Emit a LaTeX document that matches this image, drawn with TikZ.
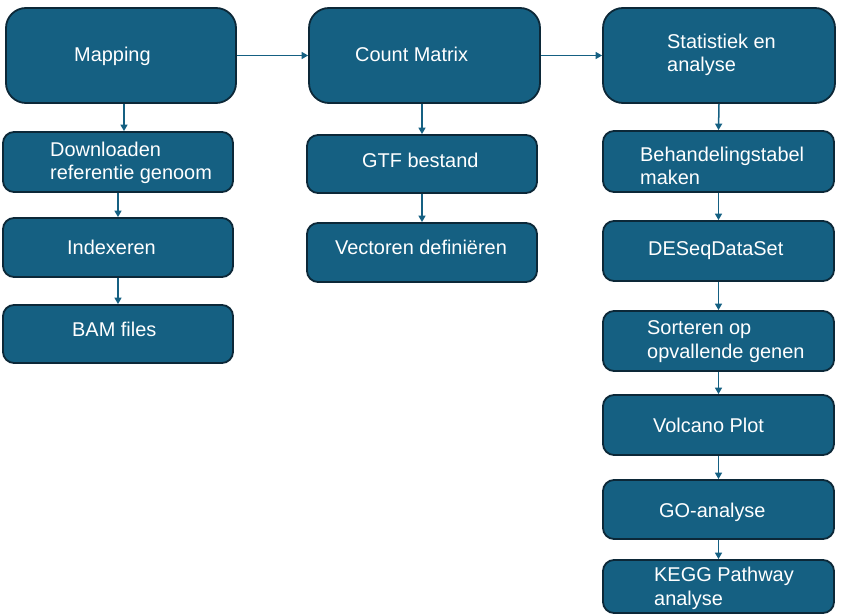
\documentclass[tikz,border=0pt]{standalone}
\usepackage{fontspec}
\setmainfont{Liberation Sans}
\usetikzlibrary{arrows.meta}
\definecolor{boxfill}{HTML}{156082}
\definecolor{boxline}{HTML}{0C2838}
\definecolor{arrowc}{HTML}{156082}
\tikzset{
  bigbox/.style={draw=boxline, fill=boxfill, line width=1.8bp, rounded corners=20bp, inner sep=0pt},
  smallbox/.style={draw=boxline, fill=boxfill, line width=1.8bp, rounded corners=11bp, inner sep=0pt},
  lbl/.style={text=white, inner sep=0pt, anchor=base west, align=left, font=\fontsize{20}{24}\selectfont},
  arr/.style={draw=arrowc, line width=1.5bp, -{Triangle[length=6.5bp,width=7bp]}}
}
\newcommand{\bx}[6]{% style, name, left, top, right, bottom
  \node[#1, minimum width={(#5-#3)*1bp}, minimum height={(#6-#4)*1bp}] (#2) at ({(#3+#5)/2},{(#4+#6)/2}) {};}
\begin{document}
\begin{tikzpicture}[x=1bp,y=-1bp]
\useasboundingbox (0,0) rectangle (843,615);
% column 1
\bx{bigbox}{map}{6}{8}{236}{103}
\bx{smallbox}{dl}{3}{132}{233}{192}
\bx{smallbox}{idx}{3}{218}{233}{277}
\bx{smallbox}{bam}{3}{305}{233}{363}
% column 2
\bx{bigbox}{cm}{309}{8}{540}{103}
\bx{smallbox}{gtf}{307}{135}{537}{193}
\bx{smallbox}{vec}{307}{223}{537}{282}
% column 3
\bx{bigbox}{stat}{603}{8}{835}{103}
\bx{smallbox}{beh}{603}{131}{834}{192}
\bx{smallbox}{des}{603}{221}{834}{281}
\bx{smallbox}{sort}{603}{311}{834}{371}
\bx{smallbox}{volc}{603}{395}{834}{455}
\bx{smallbox}{go}{603}{480}{834}{539}
\bx{smallbox}{kegg}{603}{560}{834}{613}
% labels (base = baseline of last line)
\node[lbl] (map-t) at (74,62) {Mapping};
\node[lbl] (dl-t) at (50,180) {Downloaden\\referentie genoom};
\node[lbl] (idx-t) at (67,254) {Indexeren};
\node[lbl] (bam-t) at (72,336) {BAM files};
\node[lbl] (cm-t) at (355,62) {Count Matrix};
\node[lbl] (gtf-t) at (362,168) {GTF bestand};
\node[lbl] (vec-t) at (335,254) {Vectoren definiëren};
\node[lbl] (stat-t) at (667,72) {Statistiek en\\analyse};
\node[lbl] (beh-t) at (640,185) {Behandelingstabel\\maken};
\node[lbl] (des-t) at (648,255) {DESeqDataSet};
\node[lbl] (sort-t) at (647,358) {Sorteren op\\opvallende genen};
\node[lbl] (volc-t) at (653,432) {Volcano Plot};
\node[lbl] (go-t) at (659,517) {GO-analyse};
\node[lbl] (kegg-t) at (654,605) {KEGG Pathway\\analyse};
% connectors
\draw[arr] (map.east) -- (cm.west);
\draw[arr] (cm.east) -- (stat.west);
\draw[arr] ([xshift=3bp]map.south) -- ([xshift=3bp]map.south |- dl.north);
\draw[arr] (dl.south) -- (idx.north);
\draw[arr] (idx.south) -- (bam.north);
\draw[arr] (gtf.north |- cm.south) -- (gtf.north);
\draw[arr] (gtf.south) -- (vec.north);
\draw[arr] (stat.south) -- (beh.north);
\draw[arr] (beh.south) -- (des.north);
\draw[arr] (des.south) -- (sort.north);
\draw[arr] (sort.south) -- (volc.north);
\draw[arr] (volc.south) -- (go.north);
\draw[arr] (go.south) -- (kegg.north);
\end{tikzpicture}
\end{document}
